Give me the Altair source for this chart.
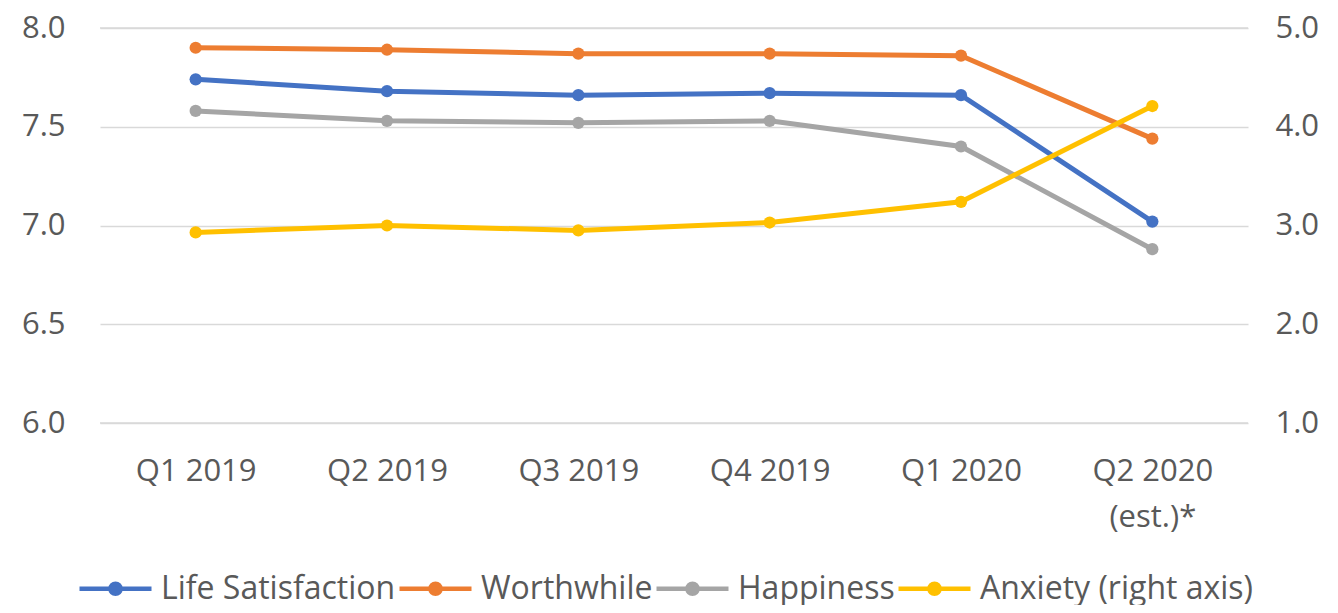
import altair as alt
import pandas as pd

categories = ["Q1 2019", "Q2 2019", "Q3 2019", "Q4 2019", "Q1 2020", "Q2 2020 (est.)*"]
life_satisfaction = [7.74, 7.68, 7.66, 7.67, 7.66, 7.02]
worthwhile = [7.90, 7.89, 7.87, 7.87, 7.86, 7.44]
happiness = [7.58, 7.53, 7.52, 7.53, 7.40, 6.88]
anxiety = [2.93, 3.00, 2.95, 3.03, 3.24, 4.21]

series_names = ["Life Satisfaction", "Worthwhile", "Happiness", "Anxiety (right axis)"]
series_colors = ["#4472C4", "#ED7D31", "#A5A5A5", "#FFC000"]
left_ticks = [6.0, 6.5, 7.0, 7.5, 8.0]
right_ticks = [1.0, 2.0, 3.0, 4.0, 5.0]

rows = []
for name, vals in zip(series_names, [life_satisfaction, worthwhile, happiness, anxiety]):
    for i, (c, v) in enumerate(zip(categories, vals)):
        rows.append({"quarter": c, "series": name, "value": v, "order": i})
df = pd.DataFrame(rows)

FONT = "Open Sans"
TXT = "#595959"
FS = 31
W, H = 1148, 395

x_enc = alt.X(
    "quarter:N",
    sort=categories,
    scale=alt.Scale(type="point", padding=0.5),
    axis=alt.Axis(
        title=None, domain=False, ticks=False, grid=False, labelAngle=0,
        labelFontSize=FS, labelColor=TXT, labelFont=FONT, labelPadding=33,
        labelLineHeight=46,
        labelExpr="datum.value == 'Q2 2020 (est.)*' ? ['Q2 2020', '(est.)*'] : datum.value",
    ),
)

legend = alt.Legend(
    title=None, orient="none", direction="horizontal", legendX=-23, legendY=522,
    labelFontSize=32, labelColor=TXT, labelFont=FONT, columnPadding=-6,
    labelLimit=600,
    symbolType="M-1,0H1M-0.14,0A0.14,0.14 0 1,1 0.14,0A0.14,0.14 0 1,1 -0.14,0",
    symbolSize=5184, symbolStrokeWidth=4.5, labelOffset=7, columns=4,
)
color_enc = alt.Color(
    "series:N",
    scale=alt.Scale(domain=series_names, range=series_colors),
    sort=series_names,
    legend=legend,
)

base = alt.Chart(df)

left = base.transform_filter(
    alt.datum.series != "Anxiety (right axis)"
).mark_line(
    strokeWidth=5, point=alt.OverlayMarkDef(size=150, filled=True, opacity=1)
).encode(
    x=x_enc,
    y=alt.Y(
        "value:Q",
        scale=alt.Scale(domain=[6, 8], zero=False, nice=False),
        axis=alt.Axis(
            title=None, values=left_ticks, format=".1f", domain=False, ticks=False,
            labelFontSize=FS, labelColor=TXT, labelFont=FONT, labelPadding=35,
            grid=True, gridColor="#D9D9D9", gridWidth=1.5,
        ),
    ),
    color=color_enc,
    order="order:Q",
)

right = base.transform_filter(
    alt.datum.series == "Anxiety (right axis)"
).mark_line(
    strokeWidth=5, point=alt.OverlayMarkDef(size=150, filled=True, opacity=1)
).encode(
    x=x_enc,
    y=alt.Y(
        "value:Q",
        scale=alt.Scale(domain=[1, 5], zero=False, nice=False),
        axis=alt.Axis(
            title=None, orient="right", values=right_ticks, format=".1f",
            domain=False, ticks=False, grid=False,
            labelFontSize=FS, labelColor=TXT, labelFont=FONT, labelPadding=27,
        ),
    ),
    color=color_enc,
    order="order:Q",
)

chart = alt.layer(left, right).resolve_scale(y="independent").properties(
    width=W, height=H,
    autosize=alt.AutoSizeParams(type="none"),
    padding={"left": 92, "top": 20, "right": 82, "bottom": 182},
    background="white",
).configure_view(
    stroke="#D9D9D9", strokeWidth=1.5, strokeDash=[W, H, W, H]
).configure_axis(
    domain=False
)

chart.save("out.html", embed_options={"renderer": "svg", "actions": False})
